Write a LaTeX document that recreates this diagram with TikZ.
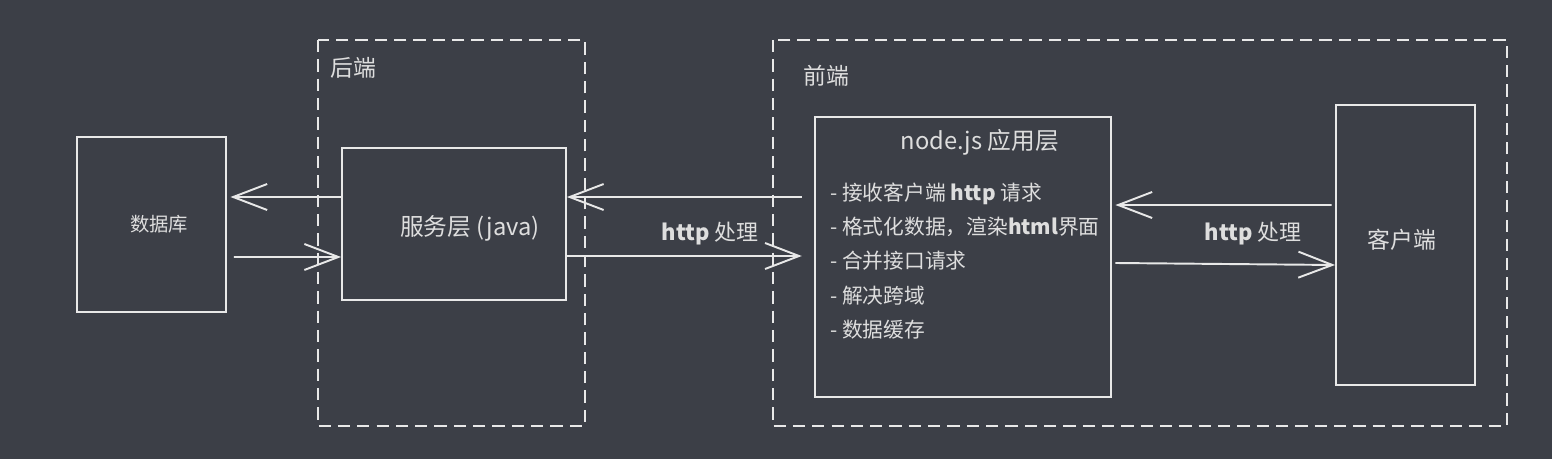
\documentclass[tikz,border=0pt]{standalone}
\usepackage{fontspec}
\setmainfont{Noto Sans CJK SC}
\usetikzlibrary{arrows.meta}
\definecolor{bg}{RGB}{60,63,71}
\definecolor{ink}{RGB}{232,232,232}
\definecolor{txt}{RGB}{222,222,222}
\tikzset{
  box/.style={draw=ink, line width=1.1pt, inner sep=0pt},
  group/.style={draw=ink, line width=1.1pt, dash pattern=on 7pt off 4pt},
  arr/.style={draw=ink, line width=1.1pt, -{Straight Barb[length=0.68cm, width=0.52cm]}},
  lbl/.style={text=txt, inner sep=0pt},
}
\begin{document}
\begin{tikzpicture}[x=0.02cm, y=-0.02cm]
    % background %
    \fill[bg] (0,0) rectangle (1552,459);
    \useasboundingbox (0,0) rectangle (1552,459);

    % groups %
    \draw[group] (318,40) rectangle (585,426);
    \draw[group] (773,40) rectangle (1507,426);
    \node[lbl, font=\fontsize{13}{15}\selectfont] (backend) at (353,68) {后端};
    \node[lbl, font=\fontsize{13}{15}\selectfont] (frontend) at (826,76) {前端};

    % boxes %
    \node[box, minimum width=2.98cm, minimum height=3.5cm] (db) at (151.5,224.5) {};
    \node[box, minimum width=4.48cm, minimum height=3.04cm] (serv) at (454,224) {};
    \node[box, minimum width=5.92cm, minimum height=5.6cm] (app) at (963,257) {};
    \node[box, minimum width=2.78cm, minimum height=5.6cm] (client) at (1405.5,245) {};

    % labels %
    \node[lbl, font=\fontsize{11}{13}\selectfont] (db-txt) at (159,224) {数据库};
    \node[lbl, font=\fontsize{13.5}{15}\selectfont] (serv-txt) at (470,228) {服务层 (java)};
    \node[lbl, font=\fontsize{13}{15}\selectfont] (client-txt) at (1402,240) {客户端};
    \node[lbl, font=\fontsize{13.5}{15}\selectfont] (app-txt) at (980,142) {node.js 应用层};
    \node[lbl, font=\fontsize{11.8}{19.4}\selectfont, align=left, anchor=west] (app-list) at (830,261)
      {- 接收客户端 {\bfseries http} 请求\\
       - 格式化数据，渲染{\bfseries html}界面\\
       - 合并接口请求\\
       - 解决跨域\\
       - 数据缓存};

    % connectors %
    \draw[arr] ([yshift=0.54cm]serv.west) -- ([yshift=0.55cm, xshift=2]db.east);
    \draw[arr] ([yshift=-0.65cm, xshift=4]db.east) -- ([yshift=-0.66cm]serv.west);
    \draw[arr] ([yshift=1.2cm, xshift=-7]app.west) -- ([yshift=0.54cm]serv.east);
    \draw[arr] ([yshift=-0.64cm]serv.east) -- ([yshift=0.02cm, xshift=-7]app.west);
    \draw[arr] ([yshift=0.8cm, xshift=-2]client.west) -- ([yshift=1.04cm, xshift=2]app.east);
    \draw[arr] ([yshift=-0.12cm, xshift=2]app.east) -- ([yshift=-0.4cm]client.west);
    \node[lbl, font=\fontsize{12.5}{14}\selectfont] (http-l) at (710,234) {{\bfseries http} 处理};
    \node[lbl, font=\fontsize{12.5}{14}\selectfont] (http-r) at (1253,234) {{\bfseries http} 处理};
\end{tikzpicture}
\end{document}
